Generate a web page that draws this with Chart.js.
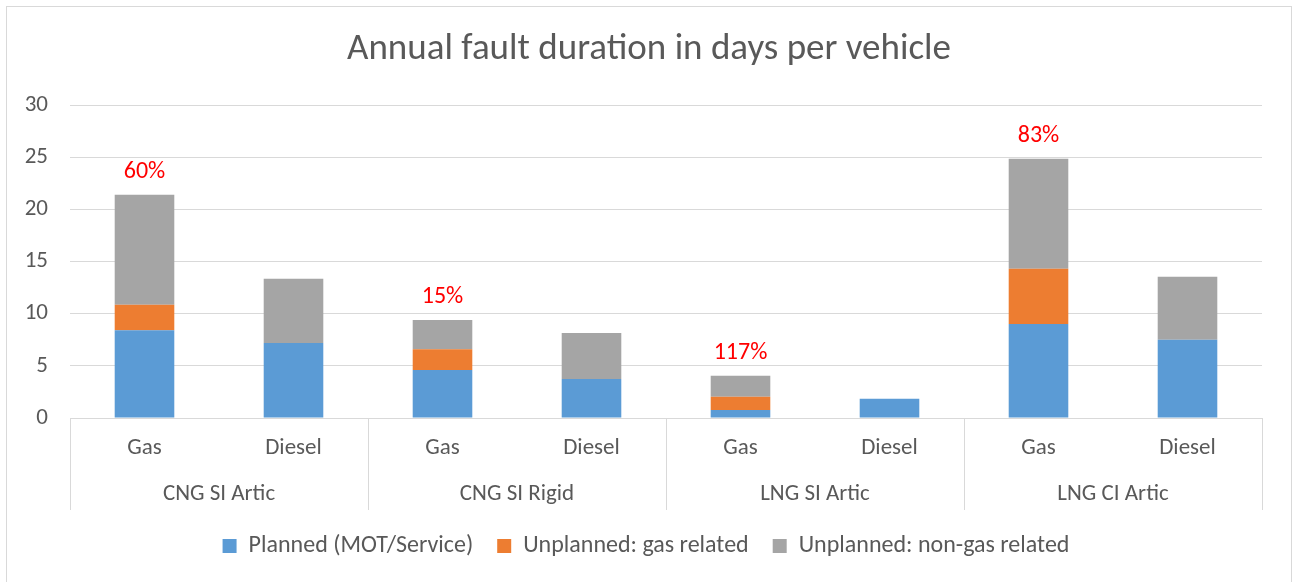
<!DOCTYPE html>
<html>
<head>
<meta charset="utf-8">
<title>Annual fault duration in days per vehicle</title>
<script src="https://cdn.jsdelivr.net/npm/chart.js@4.4.0/dist/chart.umd.min.js"></script>
<style>
    html, body { margin: 0; padding: 0; background: #ffffff; }
    #wrap { position: relative; width: 1292px; height: 582px; }
</style>
</head>
<body>
<div id="wrap"><canvas id="faultChart"></canvas></div>
<script>
const chartTitle = 'Annual fault duration in days per vehicle';
const fuelLabels = ['Gas', 'Diesel', 'Gas', 'Diesel', 'Gas', 'Diesel', 'Gas', 'Diesel'];
const groupLabels = ['CNG SI Artic', 'CNG SI Rigid', 'LNG SI Artic', 'LNG CI Artic'];
const planned = [8.4, 7.2, 4.6, 3.75, 0.77, 1.85, 9.0, 7.5];
const unplannedGas = [2.45, 0, 2.0, 0, 1.27, 0, 5.3, 0];
const unplannedNonGas = [10.55, 6.15, 2.8, 4.4, 2.02, 0, 10.55, 6.05];
const pctLabels = ['60%', '', '15%', '', '117%', '', '83%', ''];
const yTicks = [0, 5, 10, 15, 20, 25, 30];

const FONT = "Carlito, Calibri, Lato, sans-serif";
const TEXT = '#595959';
const LINE = '#d9d9d9';

Chart.defaults.font.family = FONT;
Chart.defaults.color = TEXT;

// outer frame, title, group separators, group names and the red percentages
const decorPlugin = {
    id: 'decor',
    beforeDraw(chart) {
        const ctx = chart.ctx;
        ctx.save();
        ctx.strokeStyle = LINE;
        ctx.lineWidth = 1;
        ctx.strokeRect(6.5, 6.5, 1285, 620);
        ctx.fillStyle = TEXT;
        ctx.font = '37px ' + FONT;
        ctx.textAlign = 'center';
        ctx.textBaseline = 'middle';
        ctx.fillText(chartTitle, 649, 50);
        ctx.restore();
    },
    afterDraw(chart) {
        const ctx = chart.ctx;
        const x = chart.scales.x;
        const y = chart.scales.y;
        const half = (x.getPixelForValue(1) - x.getPixelForValue(0)) / 2;
        const bottom = x.bottom;
        ctx.save();
        ctx.strokeStyle = LINE;
        ctx.lineWidth = 1;
        for (let g = 0; g <= groupLabels.length; g++) {
            const px = Math.round(x.getPixelForValue(g * 2) - half) + 0.5;
            ctx.beginPath();
            ctx.moveTo(px, y.bottom);
            ctx.lineTo(px, bottom);
            ctx.stroke();
        }
        ctx.fillStyle = TEXT;
        ctx.font = '23px ' + FONT;
        ctx.textAlign = 'center';
        ctx.textBaseline = 'middle';
        groupLabels.forEach((name, g) => {
            const cx = (x.getPixelForValue(g * 2) + x.getPixelForValue(g * 2 + 1)) / 2;
            ctx.fillText(name, cx, y.bottom + 76);
        });
        ctx.fillStyle = '#ff0000';
        ctx.font = '24px ' + FONT;
        pctLabels.forEach((txt, i) => {
            if (!txt) return;
            const total = planned[i] + unplannedGas[i] + unplannedNonGas[i];
            ctx.fillText(txt, x.getPixelForValue(i), y.getPixelForValue(total) - 23);
        });
        ctx.restore();
    }
};

const ctx = document.getElementById('faultChart').getContext('2d');
const faultChart = new Chart(ctx, {
    type: 'bar',
    data: {
        labels: fuelLabels,
        datasets: [{
            label: 'Planned (MOT/Service)',
            data: planned,
            backgroundColor: '#5b9bd5'
        }, {
            label: 'Unplanned: gas related',
            data: unplannedGas,
            backgroundColor: '#ed7d31'
        }, {
            label: 'Unplanned: non-gas related',
            data: unplannedNonGas,
            backgroundColor: '#a5a5a5'
        }]
    },
    options: {
        responsive: true,
        maintainAspectRatio: false,
        animation: false,
        layout: {
            padding: { left: 0, right: 0, top: 105, bottom: 14 }
        },
        datasets: {
            bar: {
                categoryPercentage: 1,
                barPercentage: 0.4,
                borderWidth: 0
            }
        },
        scales: {
            x: {
                stacked: true,
                grid: { display: false, drawTicks: false },
                border: { color: LINE },
                ticks: { font: { size: 23 }, color: TEXT, padding: 16 },
                afterFit(scale) { scale.height = 92; }
            },
            y: {
                stacked: true,
                min: 0,
                max: 30,
                afterBuildTicks(scale) {
                    scale.ticks = yTicks.map(v => ({ value: v }));
                },
                grid: { color: LINE, drawTicks: false },
                border: { display: false },
                ticks: { font: { size: 23 }, color: TEXT, padding: 22 },
                afterFit(scale) { scale.width = 70; }
            },
            // empty right margin so the legend centres on the whole frame
            yRight: {
                position: 'right',
                grid: { display: false, drawTicks: false },
                border: { display: false },
                ticks: { display: false },
                afterFit(scale) { scale.width = 30; }
            }
        },
        plugins: {
            title: { display: false },
            legend: {
                position: 'bottom',
                labels: {
                    font: { size: 24 },
                    color: TEXT,
                    boxWidth: 14,
                    boxHeight: 14,
                    padding: 24
                }
            },
            tooltip: { enabled: false }
        }
    },
    plugins: [decorPlugin]
});
</script>
</body>
</html>
